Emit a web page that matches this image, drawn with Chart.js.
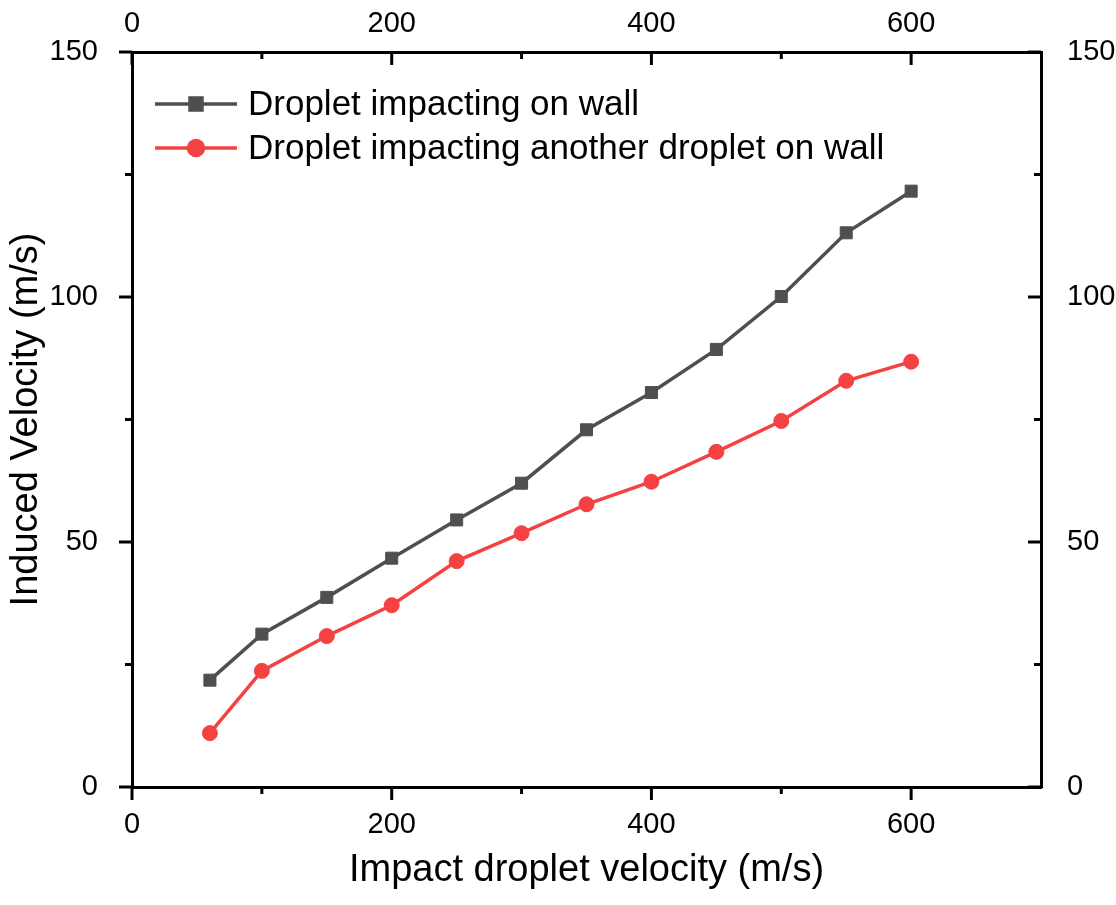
<!DOCTYPE html>
<html lang="en">
<head>
    <meta charset="UTF-8">
    <title>Induced Velocity</title>
    <script src="https://cdn.jsdelivr.net/npm/chart.js"></script>
    <style>
        body { margin: 0; background: #fff; }
        .chart-box { width: 1116px; height: 905px; position: relative; }
    </style>
</head>
<body>
    <div class="chart-box">
        <canvas id="velocityChart"></canvas>
    </div>

    <script>
// data
const impactVelocity = [60, 100, 150, 200, 250, 300, 350, 400, 450, 500, 550, 600];
const wallVelocity = [21.8, 31.2, 38.7, 46.7, 54.5, 62.0, 72.9, 80.5, 89.3, 100.1, 113.1, 121.6];
const dropletVelocity = [11.0, 23.7, 30.8, 37.1, 46.1, 51.8, 57.7, 62.3, 68.4, 74.7, 82.9, 86.8];

const xMajorTicks = [0, 200, 400, 600];
const xMinorTicks = [100, 300, 500];
const yMajorTicks = [0, 50, 100, 150];
const yMinorTicks = [25, 75, 125];

const fontFamily = "'Liberation Sans', Arial, sans-serif";

function toPoints(xs, ys) {
    return xs.map((x, i) => ({ x: x, y: ys[i] }));
}

// tick marks: outward on bottom/left, inward on top/right
const tickMarks = {
    id: 'tickMarks',
    afterDraw(chart) {
        const ctx = chart.ctx;
        const s = chart.scales;
        const major = 13, minor = 7;
        ctx.save();
        ctx.strokeStyle = '#000';
        ctx.lineWidth = 3;
        ctx.lineCap = 'butt';
        function tick(scale, value, len) {
            ctx.beginPath();
            if (scale.isHorizontal()) {
                const px = scale.getPixelForValue(value);
                if (scale.position === 'bottom') {
                    ctx.moveTo(px, scale.top); ctx.lineTo(px, scale.top + len);
                } else {
                    ctx.moveTo(px, scale.bottom); ctx.lineTo(px, scale.bottom + len);
                }
            } else {
                const py = scale.getPixelForValue(value);
                if (scale.position === 'left') {
                    ctx.moveTo(scale.right, py); ctx.lineTo(scale.right - len, py);
                } else {
                    ctx.moveTo(scale.left, py); ctx.lineTo(scale.left - len, py);
                }
            }
            ctx.stroke();
        }
        xMajorTicks.forEach(v => { tick(s.x, v, major); tick(s.x2, v, major); });
        xMinorTicks.forEach(v => { tick(s.x, v, minor); tick(s.x2, v, minor); });
        yMajorTicks.forEach(v => { tick(s.y, v, major); tick(s.y2, v, major); });
        yMinorTicks.forEach(v => { tick(s.y, v, minor); tick(s.y2, v, minor); });
        ctx.restore();
    }
};

// legend inside the plot, top-left
const innerLegend = {
    id: 'innerLegend',
    afterDatasetsDraw(chart) {
        const ctx = chart.ctx;
        const area = chart.chartArea;
        ctx.save();
        chart.data.datasets.forEach((ds, i) => {
            const y = area.top + 52 + i * 44;
            const x0 = area.left + 23, x1 = area.left + 105;
            ctx.strokeStyle = ds.borderColor;
            ctx.lineWidth = ds.borderWidth;
            ctx.beginPath();
            ctx.moveTo(x0, y);
            ctx.lineTo(x1, y);
            ctx.stroke();
            ctx.fillStyle = ds.pointBackgroundColor;
            ctx.strokeStyle = ds.pointBorderColor;
            Chart.helpers.drawPoint(ctx, {
                pointStyle: ds.pointStyle,
                radius: ds.pointRadius,
                borderWidth: ds.pointBorderWidth,
                rotation: 0
            }, (x0 + x1) / 2, y);
            ctx.fillStyle = '#000';
            ctx.font = '35px ' + fontFamily;
            ctx.textBaseline = 'middle';
            ctx.textAlign = 'left';
            ctx.fillText(ds.label, area.left + 116, y + 1);
        });
        ctx.restore();
    }
};

const tickFont = { family: fontFamily, size: 29 };
const titleFont = { family: fontFamily, size: 38 };
const borderStyle = { display: true, width: 3, color: '#000' };

const ctx = document.getElementById('velocityChart').getContext('2d');
new Chart(ctx, {
    type: 'line',
    data: {
        datasets: [{
            label: 'Droplet impacting on wall',
            data: toPoints(impactVelocity, wallVelocity),
            borderColor: '#4f4f4f',
            backgroundColor: '#4f4f4f',
            pointBackgroundColor: '#4f4f4f',
            pointBorderColor: '#4f4f4f',
            borderWidth: 3.5,
            pointStyle: 'rect',
            pointRadius: 8.5,
            pointBorderWidth: 1,
            tension: 0
        }, {
            label: 'Droplet impacting another droplet on wall',
            data: toPoints(impactVelocity, dropletVelocity),
            borderColor: '#f44242',
            backgroundColor: '#f44242',
            pointBackgroundColor: '#f44242',
            pointBorderColor: '#f44242',
            borderWidth: 3.5,
            pointStyle: 'circle',
            pointRadius: 7.5,
            pointBorderWidth: 1,
            tension: 0
        }]
    },
    options: {
        responsive: true,
        maintainAspectRatio: false,
        animation: false,
        layout: { padding: 0 },
        plugins: {
            legend: { display: false },
            tooltip: { enabled: false }
        },
        scales: {
            x: {
                type: 'linear',
                position: 'bottom',
                min: 0, max: 700,
                grid: { display: false },
                border: borderStyle,
                afterBuildTicks: scale => { scale.ticks = xMajorTicks.map(v => ({ value: v })); },
                afterFit: scale => { scale.height = 118; },
                ticks: { font: tickFont, color: '#000', padding: 13, maxRotation: 0 },
                title: {
                    display: true,
                    text: 'Impact droplet velocity (m/s)',
                    font: titleFont,
                    color: '#000',
                    padding: { top: 0, bottom: 12 }
                }
            },
            x2: {
                type: 'linear',
                position: 'top',
                min: 0, max: 700,
                grid: { display: false },
                border: borderStyle,
                afterBuildTicks: scale => { scale.ticks = xMajorTicks.map(v => ({ value: v })); },
                afterFit: scale => { scale.height = 52; },
                ticks: { font: tickFont, color: '#000', padding: 3, maxRotation: 0 }
            },
            y: {
                type: 'linear',
                position: 'left',
                min: 0, max: 150,
                grid: { display: false },
                border: borderStyle,
                afterBuildTicks: scale => { scale.ticks = yMajorTicks.map(v => ({ value: v })); },
                afterFit: scale => { scale.width = 132; },
                ticks: { font: tickFont, color: '#000', padding: 26 },
                title: {
                    display: true,
                    text: 'Induced Velocity (m/s)',
                    font: titleFont,
                    color: '#000',
                    padding: { top: 4, bottom: 0 }
                }
            },
            y2: {
                type: 'linear',
                position: 'right',
                min: 0, max: 150,
                grid: { display: false },
                border: borderStyle,
                afterBuildTicks: scale => { scale.ticks = yMajorTicks.map(v => ({ value: v })); },
                afterFit: scale => { scale.width = 75; },
                ticks: { font: tickFont, color: '#000', padding: 18 }
            }
        }
    },
    plugins: [tickMarks, innerLegend]
});
    </script>
</body>
</html>
